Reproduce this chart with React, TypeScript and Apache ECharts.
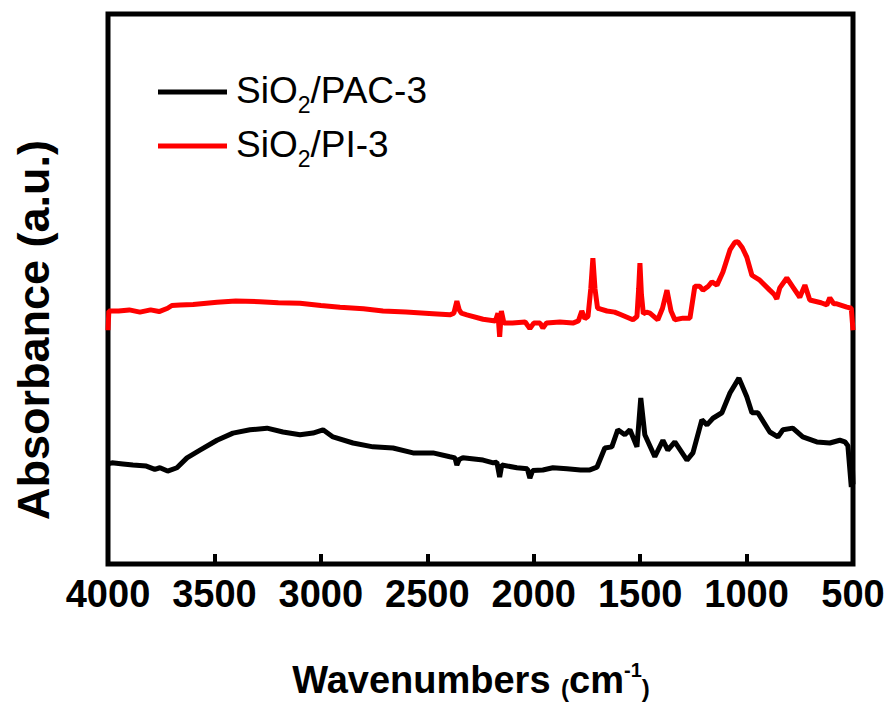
import React, { useEffect, useRef } from "react";
import * as echarts from "echarts";

const xTicks = [4000, 3500, 3000, 2500, 2000, 1500, 1000, 500];
const seriesNames = ["SiO2/PAC-3", "SiO2/PI-3"];

const pacData: [number, number][] = [
  [4000, 18.2], [3981, 18.4], [3930, 18.2], [3883, 18.0], [3820, 17.8], [3780, 17.2], [3756, 17.5],
  [3720, 16.9], [3676, 17.5], [3629, 19.3], [3568, 20.7], [3488, 22.5], [3413, 23.8], [3333, 24.4],
  [3253, 24.7], [3178, 24.0], [3098, 23.5], [3037, 23.8], [2990, 24.4], [2943, 23.1], [2849, 22.0],
  [2755, 21.3], [2661, 21.1], [2567, 20.2], [2473, 20.2], [2394, 19.5], [2370, 19.3], [2361, 18.0],
  [2350, 19.0], [2333, 19.3], [2238, 18.9], [2190, 18.4], [2173, 18.5], [2160, 15.8], [2150, 18.0],
  [2079, 17.5], [2030, 17.3], [2018, 15.6], [2005, 17.0], [1957, 17.1], [1910, 17.5], [1844, 17.3],
  [1780, 17.1], [1736, 17.1], [1703, 17.6], [1666, 21.1], [1633, 21.3], [1605, 24.4], [1572, 23.5],
  [1548, 24.4], [1515, 21.3], [1497, 30.2], [1478, 23.5], [1431, 19.5], [1393, 22.5], [1370, 20.7],
  [1337, 22.2], [1280, 18.9], [1252, 20.2], [1210, 26.2], [1186, 25.3], [1158, 26.5], [1116, 27.5],
  [1078, 31.1], [1036, 33.8], [999, 30.4], [975, 27.5], [947, 27.5], [891, 24.0], [853, 23.1],
  [829, 24.4], [783, 24.7], [736, 23.1], [670, 22.2], [609, 22.0], [562, 22.5], [538, 22.2],
  [524, 21.5], [508, 14.0], [503, 18.0], [500, 14.5],
];

const piData: [number, number][] = [
  [4000, 42.5], [3996, 46.0], [3950, 46.0], [3900, 46.2], [3850, 45.8], [3800, 46.2], [3760, 45.9],
  [3720, 46.5], [3700, 47.0], [3662, 47.1], [3600, 47.2], [3488, 47.6], [3400, 47.8], [3286, 47.7],
  [3200, 47.5], [3098, 47.4], [3000, 47.0], [2910, 46.7], [2800, 46.4], [2708, 46.0], [2600, 45.8],
  [2473, 45.5], [2394, 45.3], [2375, 45.6], [2361, 47.8], [2350, 46.2], [2340, 45.6], [2314, 45.3],
  [2238, 44.5], [2180, 44.2], [2168, 45.6], [2160, 41.3], [2152, 46.0], [2140, 43.8], [2100, 43.8],
  [2040, 44.0], [2018, 42.8], [2000, 43.8], [1970, 43.8], [1957, 42.9], [1940, 43.8], [1877, 44.0],
  [1816, 43.8], [1790, 44.2], [1774, 46.0], [1760, 44.6], [1745, 45.0], [1732, 50.0], [1722, 55.6],
  [1712, 50.0], [1700, 46.5], [1689, 46.4], [1656, 46.0], [1620, 45.8], [1595, 45.4], [1534, 44.4],
  [1515, 45.0], [1507, 50.0], [1501, 54.7], [1494, 49.0], [1485, 45.5], [1470, 45.8], [1454, 45.6],
  [1417, 44.4], [1395, 46.5], [1374, 49.8], [1355, 46.0], [1337, 44.4], [1299, 44.7], [1266, 44.7],
  [1243, 50.5], [1220, 50.5], [1205, 49.8], [1180, 50.5], [1163, 51.3], [1139, 50.7], [1111, 53.1],
  [1078, 57.1], [1055, 58.5], [1041, 58.6], [1020, 57.5], [999, 55.8], [975, 52.5], [938, 51.6],
  [891, 49.8], [870, 49.0], [858, 48.2], [844, 50.2], [811, 52.0], [783, 50.4], [750, 48.5],
  [726, 50.7], [703, 48.0], [650, 47.5], [623, 47.1], [609, 48.4], [590, 47.3], [576, 47.3],
  [529, 46.7], [508, 46.5], [500, 42.5],
];

const FONT = "'Liberation Sans', Arial, sans-serif";

export default function App() {
  const ref = useRef<HTMLDivElement>(null);
  useEffect(() => {
    if (!ref.current) return;
    const chart = echarts.init(ref.current, null, { renderer: "svg" });
    const legendRich = {
      sub: { fontSize: 23, lineHeight: 23, verticalAlign: "bottom", fontFamily: FONT, fill: "#000" },
      m: { fontSize: 37, lineHeight: 52, fontFamily: FONT, fill: "#000" },
    };
    chart.setOption({
      animation: false,
      backgroundColor: "#fff",
      grid: {
        left: 108, right: 42, top: 14, bottom: 138,
        show: true, borderColor: "#000", borderWidth: 5, backgroundColor: "transparent",
      },
      xAxis: {
        type: "value", min: 500, max: 4000, interval: 500, inverse: true,
        axisLine: { show: false },
        axisTick: { show: true, inside: true, length: 10, lineStyle: { color: "#000", width: 4 } },
        splitLine: { show: false },
        axisLabel: {
          color: "#000", fontSize: 38, fontWeight: "bold", fontFamily: FONT, margin: 11,
          formatter: (v: number) => (xTicks.includes(v) ? String(v) : ""),
        },
      },
      yAxis: {
        type: "value", min: 0, max: 100, show: false, splitLine: { show: false },
      },
      series: [
        { name: seriesNames[0], type: "line", data: pacData, showSymbol: false, lineStyle: { color: "#000", width: 5 }, itemStyle: { color: "#000" } },
        { name: seriesNames[1], type: "line", data: piData, showSymbol: false, lineStyle: { color: "#ff0000", width: 5 }, itemStyle: { color: "#ff0000" } },
      ],
      graphic: [
        { type: "line", shape: { x1: 158, y1: 92, x2: 227, y2: 92 }, style: { stroke: "#000", lineWidth: 5 } },
        { type: "line", shape: { x1: 158, y1: 146, x2: 227, y2: 146 }, style: { stroke: "#ff0000", lineWidth: 5 } },
        {
          type: "text", x: 236, y: 90,
          style: { text: "{m|SiO}{sub|2}{m|/PAC-3}", rich: legendRich, verticalAlign: "middle", textAlign: "left" },
        },
        {
          type: "text", x: 236, y: 144,
          style: { text: "{m|SiO}{sub|2}{m|/PI-3}", rich: legendRich, verticalAlign: "middle", textAlign: "left" },
        },
        {
          type: "text", x: 33, y: 330, rotation: Math.PI / 2,
          style: {
            text: "Absorbance (a.u.)", fontSize: 45, fontWeight: "bold", fontFamily: FONT,
            fill: "#000", textAlign: "center", verticalAlign: "middle",
          },
        },
        {
          type: "text", x: 471, y: 680,
          style: {
            text: "{m|Wavenumbers }{p|(}{m|cm}{s|-1}{p|)}",
            textAlign: "center", verticalAlign: "middle",
            rich: {
              m: { fontSize: 38, fontWeight: "bold", lineHeight: 40, fontFamily: FONT, fill: "#000" },
              p: { fontSize: 24, fontWeight: "bold", lineHeight: 38, verticalAlign: "bottom", fontFamily: FONT, fill: "#000" },
              s: { fontSize: 20, fontWeight: "bold", lineHeight: 36, verticalAlign: "top", fontFamily: FONT, fill: "#000" },
            },
          },
        },
      ],
    });
    return () => chart.dispose();
  }, []);
  return <div ref={ref} style={{ position: "fixed", left: 0, top: 0, width: 895, height: 702 }} />;
}
